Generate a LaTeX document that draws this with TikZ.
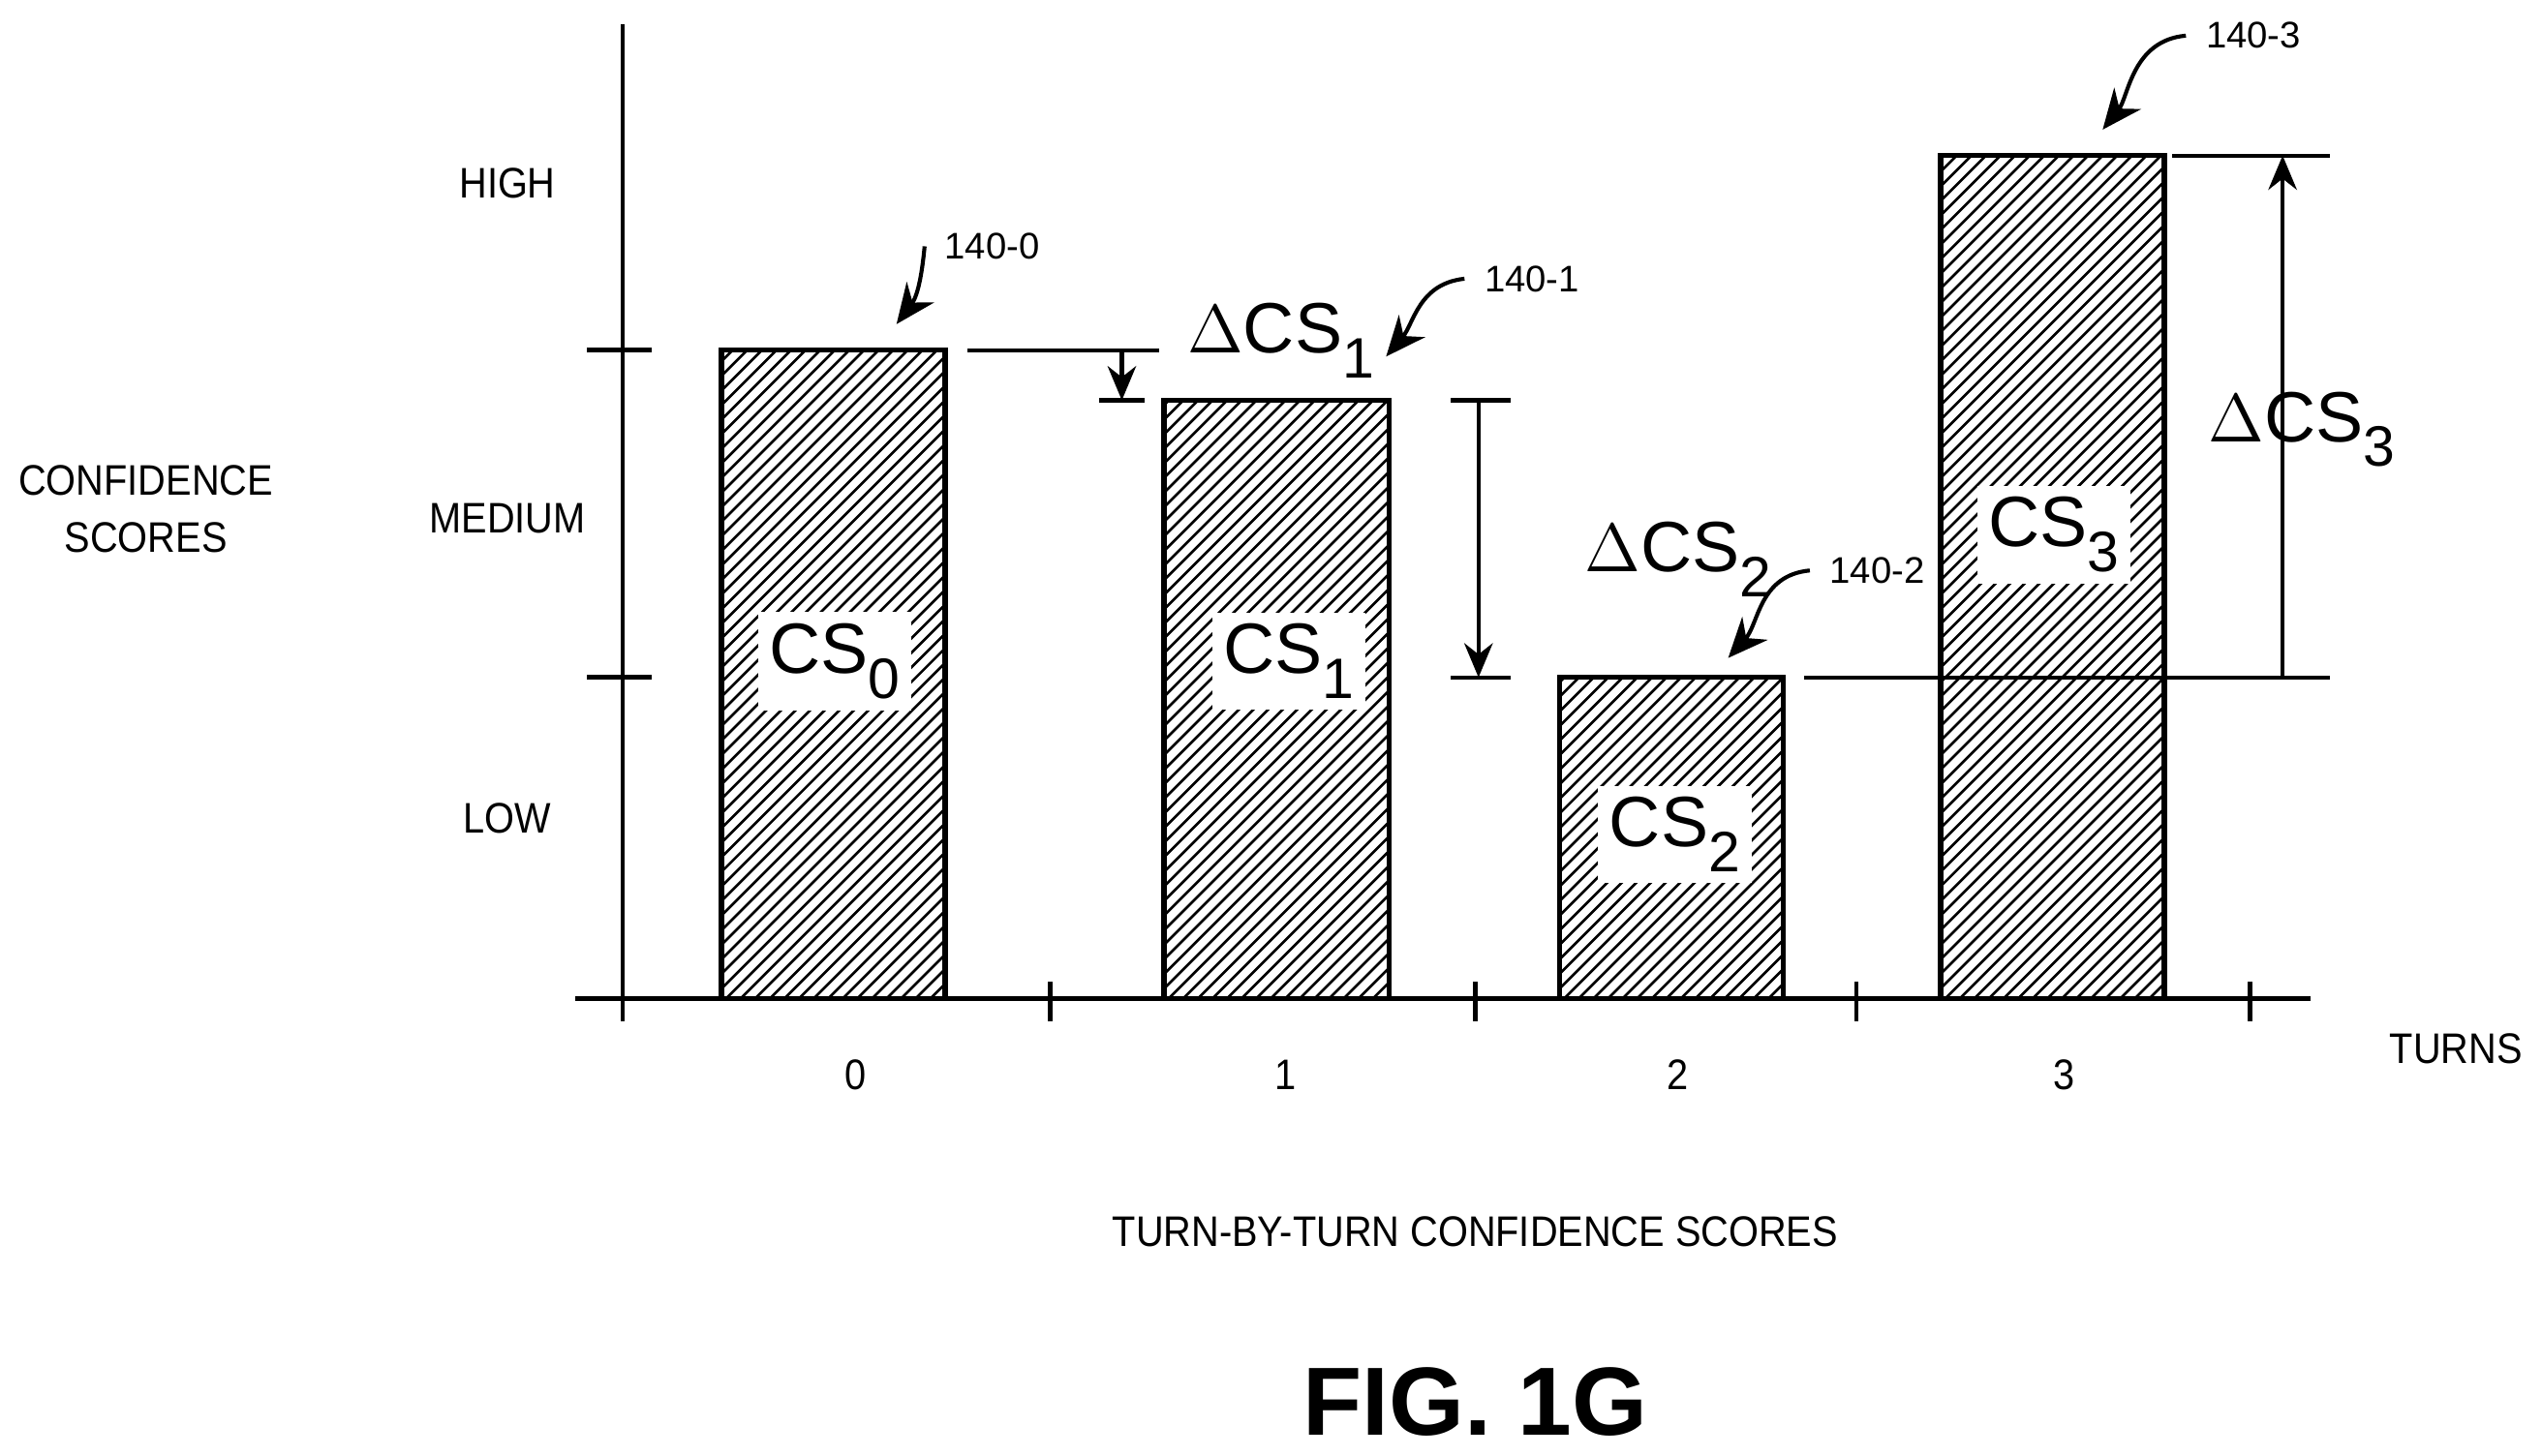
\documentclass[tikz,border=0pt]{standalone}
\usepackage{fontspec}
\setmainfont{Liberation Sans}
\usetikzlibrary{arrows.meta}
\newcommand{\sbs}[1]{\raisebox{-0.35em}{\fontsize{10}{12}\selectfont #1}}
\begin{document}
\begin{tikzpicture}[x=0.01cm,y=-0.01cm,
  ax/.style={line width=0.8pt},
  lbl/.style={font=\fontsize{7.5}{9}\selectfont,xscale=0.9},
  cs/.style={fill=white,inner sep=2pt,font=\fontsize{12.5}{15}\selectfont},
  dcs/.style={font=\fontsize{12.5}{15}\selectfont},
  ref/.style={font=\fontsize{6.5}{8}\selectfont},
  arr/.style={-{Stealth[length=6pt,width=5pt]},line width=0.7pt},
  refarr/.style={-{Stealth[length=7pt,width=6pt]},line width=0.7pt}]
\useasboundingbox (0,0) rectangle (1568,898);
% axes
\draw[ax] (384,15) -- (384,630);
\draw[ax] (355,616) -- (1425,616);
\foreach \y in {216,418} \draw[ax] (362,\y) -- (402,\y);
\foreach \x in {384,648,910,1145,1388} \draw[ax] (\x,606) -- (\x,630);
% bars
\foreach \n/\a/\b/\t in {b0/445/583/216,b1/718/857/247,b2/962/1100/418,b3/1197/1335/96}{
  \begin{scope}
  \clip (\a,\t) rectangle (\b,616);
  \foreach \k in {0,9,...,800} \draw[line width=0.45pt] (\a+\k-600,616) -- (\a+\k,16);
  \end{scope}
  \draw[line width=0.9pt] (\a,\t) rectangle (\b,616);
  \coordinate (\n) at (\a,\t);
}
\node[cs] (c0) at (515,408) {CS\sbs{0}};
\node[cs] (c1) at (795,408) {CS\sbs{1}};
\node[cs] (c2) at (1033,515) {CS\sbs{2}};
\node[cs] (c3) at (1267,330) {CS\sbs{3}};
% y labels
\node[lbl] (hi) at (313,113) {HIGH};
\node[lbl] (me) at (313,320) {MEDIUM};
\node[lbl] (lo) at (313,505) {LOW};
\node[lbl,align=center] (conf) at (90,314) {CONFIDENCE\\[1pt]SCORES};
% x labels
\node[lbl] (t0) at (528,663) {0};
\node[lbl] (t1) at (793,663) {1};
\node[lbl] (t2) at (1035,663) {2};
\node[lbl] (t3) at (1273,663) {3};
\node[lbl] (turns) at (1515,647) {TURNS};
\node[lbl] (title) at (910,760) {TURN-BY-TURN CONFIDENCE SCORES};
\node[font=\bfseries\fontsize{17}{20}\selectfont] (fig) at (910,865) {FIG. 1G};
% delta CS1
\coordinate (d1a) at (692,216); \coordinate (d1b) at (692,247);
\draw[line width=0.7pt] (597,216) -- (715,216);
\draw[line width=0.7pt] (678,247) -- (706,247);
\draw[arr] (d1a) -- (d1b);
\node[dcs] (dl1) at (790,210) {$\Delta$CS\sbs{1}};
% delta CS2
\coordinate (d2a) at (912,247); \coordinate (d2b) at (912,418);
\draw[line width=0.7pt] (895,247) -- (932,247);
\draw[line width=0.7pt] (895,418) -- (932,418);
\draw[arr] (d2a) -- (d2b);
\node[dcs] (dl2) at (1035,345) {$\Delta$CS\sbs{2}};
% delta CS3
\coordinate (d3a) at (1408,418); \coordinate (d3b) at (1408,96);
\draw[line width=0.7pt] (1113,418) -- (1437,418);
\draw[line width=0.7pt] (1340,96) -- (1437,96);
\draw[arr] (d3a) -- (d3b);
\node[dcs] (dl3) at (1420,265) {$\Delta$CS\sbs{3}};
% reference labels
\node[ref] (r0) at (612,152) {140-0};
\node[ref] (r1) at (945,172) {140-1};
\node[ref] (r2) at (1158,352) {140-2};
\node[ref] (r3) at (1390,22) {140-3};
\coordinate (p0) at (553,200); \coordinate (p1) at (855,220);
\coordinate (p2) at (1066,406); \coordinate (p3) at (1297,80);
\draw[refarr] (r0.west) .. controls (570,155) and (568,180) .. (p0);
\draw[refarr] (r1.west) .. controls (875,175) and (872,200) .. (p1);
\draw[refarr] (r2.west) .. controls (1085,355) and (1085,385) .. (p2);
\draw[refarr] (r3.west) .. controls (1315,25) and (1313,60) .. (p3);
\end{tikzpicture}
\end{document}
